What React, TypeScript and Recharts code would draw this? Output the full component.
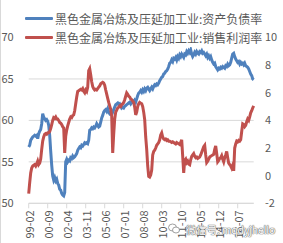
import React from 'react';
import { LineChart, Line, XAxis, YAxis, CartesianGrid, Legend } from 'recharts';

const START_YEAR = 1999;
const START_MONTH = 2;

const seriesNames = ['黑色金属冶炼及压延加工业:资产负债率', '黑色金属冶炼及压延加工业:销售利润率'];

// 资产负债率 (%), left axis, monthly from 1999-02
const debtRatio = [
  56.8, 57.0, 57.6, 57.8, 58.0, 58.1, 58.2, 58.1, 58.2, 57.8,
  58.4, 58.7, 58.9, 59.6, 60.8, 60.4, 60.2, 60.0, 60.1, 59.9,
  59.4, 58.2, 56.3, 54.6, 53.3, 52.8, 53.1, 52.7, 52.9, 52.4,
  52.2, 51.7, 51.6, 51.2, 51.0, 50.9, 51.3, 55.0, 55.3, 55.0,
  55.2, 55.1, 55.5, 55.4, 55.7, 55.5, 55.6, 55.8, 56.0, 56.4,
  56.6, 56.8, 56.7, 57.0, 56.9, 57.1, 57.3, 57.2, 57.3, 57.2,
  57.6, 58.8, 58.9, 59.1, 59.0, 59.2, 59.1, 59.3, 59.6, 59.4,
  59.2, 59.3, 59.8, 60.3, 60.6, 61.0, 61.2, 61.3, 61.1, 61.4,
  61.0, 60.8, 60.9, 60.7, 61.0, 61.3, 61.6, 61.9, 62.0, 62.1,
  61.9, 62.0, 61.8, 61.5, 61.6, 61.5, 61.7, 61.8, 61.9, 62.0,
  62.1, 62.2, 62.0, 62.2, 62.3, 62.1, 62.4, 62.2, 62.6, 63.0,
  63.3, 63.4, 63.6, 63.4, 63.7, 63.5, 63.8, 63.6, 63.9, 64.0,
  63.8, 63.6, 63.8, 64.0, 63.8, 64.1, 64.3, 64.2, 64.4, 64.3,
  64.5, 64.8, 65.0, 65.2, 65.3, 65.6, 65.7, 65.9, 66.0, 66.2,
  66.5, 66.9, 67.0, 67.3, 67.1, 67.5, 67.4, 67.6, 67.3, 67.7,
  67.5, 67.9, 67.7, 68.0, 67.8, 67.6, 68.0, 67.9, 68.3, 68.1,
  68.4, 68.2, 68.5, 68.0, 67.7, 67.9, 68.2, 68.0, 68.3, 68.1,
  68.0, 68.3, 68.2, 68.4, 68.1, 68.2, 68.0, 67.8, 68.0, 67.6,
  67.8, 67.5, 67.7, 67.3, 67.0, 66.8, 66.9, 66.5, 66.3, 66.1,
  66.3, 66.2, 66.4, 66.3, 66.5, 66.4, 66.3, 66.6, 66.5, 66.8,
  66.6, 66.7, 67.0, 67.5, 68.0, 68.1, 67.7, 67.4, 67.2, 67.0,
  67.1, 66.8, 67.0, 66.8, 66.9, 66.7, 66.9, 66.6, 66.5, 66.4,
  66.2, 65.9, 65.6, 65.4, 65.0, 64.9,
];

// 销售利润率 (%), right axis, monthly from 1999-02
const profitMargin = [
  -1.3, -0.5, 0.2, 0.55, 0.7, 0.75, 0.8, 0.7, 0.85, 1.05,
  0.8, 0.9, 1.2, 1.9, 2.5, 2.8, 3.0, 3.05, 3.0, 3.1,
  3.1, 3.2, 3.4, 3.7, 4.0, 4.2, 4.15, 4.25, 4.1, 4.1,
  4.0, 3.85, 3.8, 3.7, 3.55, 3.45, 1.65, 2.85, 3.3, 3.6,
  3.85, 4.1, 4.25, 4.2, 4.35, 4.4, 4.7, 5.2, 5.7, 6.1,
  6.15, 6.2, 6.25, 6.2, 6.3, 6.1, 6.0, 6.2, 6.1, 6.4,
  7.6, 7.75, 7.3, 6.8, 6.45, 6.3, 6.2, 6.25, 6.2, 6.3,
  6.4, 6.5, 6.65, 6.7, 6.75, 6.7, 6.55, 6.2, 5.9, 5.6,
  5.3, 5.05, 4.8, 4.3, 1.65, 3.0, 4.1, 4.6, 4.75, 4.9,
  4.95, 5.05, 5.0, 5.15, 5.2, 5.3, 5.5, 5.75, 6.0, 5.9,
  5.75, 5.7, 5.55, 5.5, 5.4, 5.3, 4.95, 4.4, 4.6, 5.0,
  5.2, 5.3, 5.25, 5.2, 5.0, 4.6, 4.05, 2.8, 1.9, 0.7,
  -0.05, -0.1, 0.05, 0.4, 1.5, 1.75, 1.85, 2.0, 2.2, 2.3,
  2.4, 2.6, 2.95, 3.1, 2.8, 2.65, 2.6, 2.65, 2.55, 2.6,
  2.5, 2.5, 2.45, 2.4, 2.45, 2.4, 2.35, 2.3, 2.4, 2.35,
  2.3, 2.25, 2.4, 2.6, 1.4, 0.2, 1.1, 1.2, 0.95, 1.05,
  0.85, 0.8, 1.15, 1.4, 1.5, 1.6, 1.4, 1.3, 1.35, 1.25,
  1.3, 1.35, 1.5, 1.7, 1.9, 2.1, 2.2, 1.5, 0.95, 1.05,
  1.2, 1.35, 1.4, 1.45, 1.5, 1.55, 1.9, 2.15, 1.6, 1.0,
  1.1, 1.25, 1.3, 1.45, 1.2, 1.0, 1.3, 1.5, 1.75, 1.3,
  0.9, 0.8, 0.7, 0.55, 0.75, 0.35, 2.0, 2.3, 2.5, 2.45,
  2.55, 2.5, 2.6, 3.2, 3.75, 3.7, 3.55, 3.65, 3.9, 4.1,
  4.0, 4.25, 4.55, 4.7, 4.9, 5.05,
];

const leftTicks = [50, 55, 60, 65, 70];
const rightTicks = [-2, 0, 2, 4, 6, 8, 10];
const watermark = '微信号: mqdyjhello';

const monthLabel = (i: number) => {
  const m = START_MONTH - 1 + i;
  const y = START_YEAR + Math.floor(m / 12);
  const mm = (m % 12) + 1;
  return `${String(y % 100).padStart(2, '0')}-${String(mm).padStart(2, '0')}`;
};

const data = debtRatio.map((v, i) => ({ m: monthLabel(i), debt: v, profit: profitMargin[i] }));

const BLUE = '#4F81BD';
const RED = '#C0504D';
const TEXT = '#595959';
const GRID = '#D9D9D9';
const FONT = '"Noto Sans CJK SC", "Noto Sans", sans-serif';

const XTick = (props: any) => {
  const { x, y, payload } = props;
  return (
    <text
      x={x}
      y={y}
      transform={`rotate(-90, ${x}, ${y})`}
      textAnchor="end"
      dominantBaseline="central"
      fill={TEXT}
      fontSize={11}
      fontFamily={FONT}
    >
      {payload.value}
    </text>
  );
};

const LegendContent = () => (
  <div
    style={{
      background: '#fff',
      width: 238,
      fontFamily: FONT,
      fontSize: 12,
      color: TEXT,
    }}
  >
    {seriesNames.map((name, i) => (
      <div key={name} style={{ display: 'flex', alignItems: 'center', height: 19, lineHeight: '19px', whiteSpace: 'nowrap' }}>
        <div style={{ width: 28, height: 3, background: i === 0 ? BLUE : RED, marginRight: 2, borderRadius: 1 }} />
        <span>{name}</span>
      </div>
    ))}
  </div>
);

export default function App() {
  return (
    <div style={{ position: 'absolute', left: 0, top: 0, width: 283, height: 243, background: '#fff', overflow: 'hidden' }}>
      <div style={{ position: 'absolute', left: 0, top: 0, width: 1, height: 243, background: '#D9D9D9' }} />
      <LineChart width={283} height={243} data={data} margin={{ top: 37.5, right: 0, bottom: 0, left: 0 }}>
        <CartesianGrid yAxisId="left" vertical={false} stroke={GRID} strokeWidth={1} />
        <XAxis
          dataKey="m"
          scale="point"
          padding={{ left: 0, right: 0 }}
          interval={18}
          height={39.7}
          tickSize={5}
          tickMargin={2}
          axisLine={{ stroke: GRID }}
          tickLine={{ stroke: GRID }}
          tick={<XTick />}
        />
        <YAxis
          yAxisId="left"
          width={28.7}
          domain={[50, 70]}
          ticks={leftTicks}
          allowDataOverflow
          axisLine={false}
          tickLine={false}
          tickSize={0}
          tickMargin={15}
          tick={{ fill: TEXT, fontSize: 11, fontFamily: FONT }}
        />
        <YAxis
          yAxisId="right"
          orientation="right"
          width={29.3}
          domain={[-2, 10]}
          ticks={rightTicks}
          allowDataOverflow
          axisLine={false}
          tickLine={false}
          tickSize={0}
          tickMargin={11.3}
          tick={{ fill: TEXT, fontSize: 11, fontFamily: FONT, textAnchor: 'start' }}
        />
        <Legend
          layout="vertical"
          align="center"
          verticalAlign="middle"
          wrapperStyle={{ left: 25, top: 8.5, width: 238 }}
          content={<LegendContent />}
        />
        <Line yAxisId="left" dataKey="debt" stroke={BLUE} strokeWidth={3} dot={false} isAnimationActive={false} />
        <Line yAxisId="right" dataKey="profit" stroke={RED} strokeWidth={3} dot={false} isAnimationActive={false} />
      </LineChart>
      <svg style={{ position: 'absolute', left: 168, top: 223 }} width={12} height={11}>
        <ellipse cx={4.5} cy={4.5} rx={4} ry={3.5} fill="#fff" stroke="#888" strokeWidth={0.8} />
        <ellipse cx={8} cy={7} rx={3.5} ry={3} fill="#fff" stroke="#888" strokeWidth={0.8} />
      </svg>
      <div
        style={{
          position: 'absolute',
          left: 186,
          top: 222,
          fontFamily: FONT,
          fontSize: 10.5,
          letterSpacing: -0.2,
          color: '#fff',
          textShadow: '0 0 1px #666, 0 0 1px #666, 0 0 1px #666',
          whiteSpace: 'nowrap',
        }}
      >
        {watermark}
      </div>
    </div>
  );
}
